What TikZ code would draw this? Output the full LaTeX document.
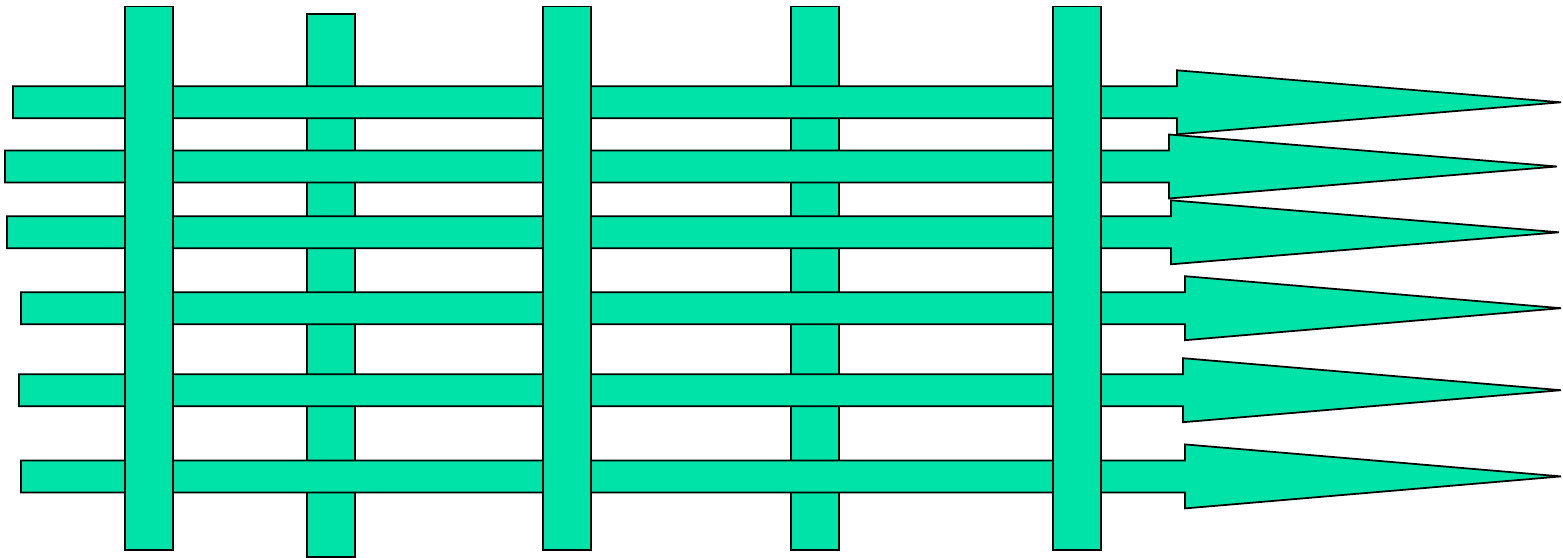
\documentclass[tikz,border=0pt]{standalone}
\usepackage{tikz}
\usepackage{xcolor}
\definecolor{mint}{RGB}{0,227,168}

% one horizontal band with its arrow head: left x, centre y, head x, tip x
\newcommand{\weftarrow}[5]{%
  \draw[band] (#1,#2-16) -- (#3,#2-16) -- (#3,#2-32) -- (#4,#2)
    -- (#3,#2+32) -- (#3,#2+16) -- (#1,#2+16) -- cycle;
  \coordinate (#5) at (#4,#2);}

\begin{document}
\begin{tikzpicture}[x=0.02cm,y=-0.02cm,
  band/.style={draw=black,fill=mint,line width=1pt},
  post/.style={band}
]
\useasboundingbox (0,0) rectangle (1563,558);
% bars that lie under the arrows
\draw[post] (307,14) rectangle (355,557);
\draw[post] (791,6.5) rectangle (839,550);
% the six arrows
\weftarrow{13}{102.3}{1177}{1561}{tipA}
\weftarrow{5}{166.5}{1169}{1557}{tipB}
\weftarrow{7}{232.3}{1171}{1559}{tipC}
\weftarrow{21}{308.2}{1185}{1561}{tipD}
\weftarrow{19}{390.2}{1183}{1561}{tipE}
\weftarrow{21}{476.4}{1185}{1561}{tipF}
% bars that lie over the arrows
\draw[post] (125,6.5) rectangle (173,550);
\draw[post] (543,6.5) rectangle (591,550);
\draw[post] (1053,6.5) rectangle (1101,550);
\end{tikzpicture}
\end{document}
